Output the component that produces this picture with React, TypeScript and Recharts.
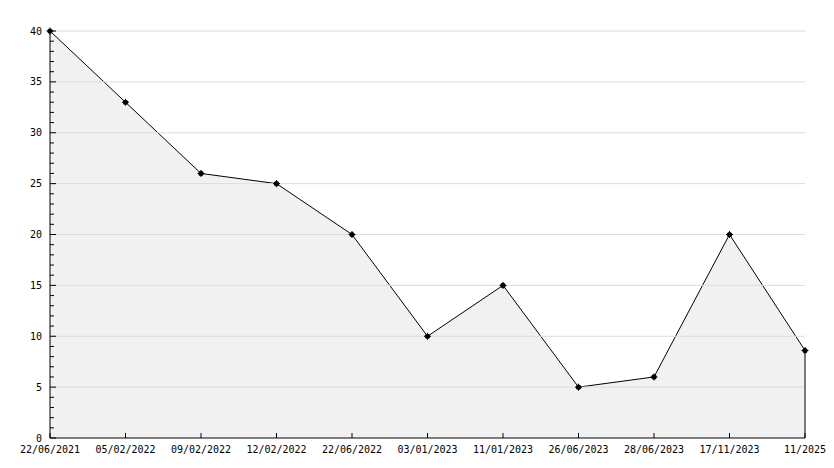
import { AreaChart, Area, XAxis, YAxis, ReferenceLine } from "recharts"

const dates = [
  "22/06/2021",
  "05/02/2022",
  "09/02/2022",
  "12/02/2022",
  "22/06/2022",
  "03/01/2023",
  "11/01/2023",
  "26/06/2023",
  "28/06/2023",
  "17/11/2023",
  "11/2025",
]
const values = [40, 33, 26, 25, 20, 10, 15, 5, 6, 20, 8.6]
const yTicks = Array.from({ length: 41 }, (_, i) => i)
const gridValues = [5, 10, 15, 20, 25, 30, 35, 40]

const data = dates.map((date, i) => ({ date, value: values[i] }))
const lastDate = dates[dates.length - 1]
const lastValue = values[values.length - 1]

const FONT = "'DejaVu Sans Mono', monospace"

function YTick(props: any) {
  const { x, y, payload } = props
  const major = payload.value % 5 === 0
  const axisX = x + 8
  return (
    <g>
      <line x1={axisX} x2={axisX + (major ? 6 : 4)} y1={y} y2={y} stroke="#000" />
      {major && (
        <text x={x} y={y + 3.5} textAnchor="end" fontSize={10} fontFamily={FONT} fill="#000">
          {payload.value}
        </text>
      )}
    </g>
  )
}

function XTick(props: any) {
  const { x, y, payload } = props
  return (
    <g>
      <line x1={x} x2={x} y1={y} y2={y - 5} stroke="#000" />
      <text x={x} y={y + 15} textAnchor="middle" fontSize={10} fontFamily={FONT} fill="#000">
        {payload.value}
      </text>
    </g>
  )
}

function Marker(props: any) {
  const { cx, cy } = props
  if (cx == null || cy == null) return null
  return (
    <g>
      <circle cx={cx} cy={cy} r={2.6} fill="#000" />
      <path d={`M${cx - 3.5},${cy}H${cx + 3.5}M${cx},${cy - 3.5}V${cy + 3.5}`} stroke="#000" strokeWidth={1} />
    </g>
  )
}

export default function App() {
  return (
    <div style={{ position: "absolute", left: 0, top: 0, width: 834, height: 468, background: "#fff" }}>
      <AreaChart width={834} height={468} data={data} margin={{ top: 31, right: 29, bottom: 0, left: 0 }}>
        {gridValues.map((v) => (
          <ReferenceLine key={v} y={v} stroke="#dcdcdc" strokeWidth={1} />
        ))}
        <XAxis
          dataKey="date"
          height={30}
          interval={0}
          tickLine={false}
          tickSize={0}
          tickMargin={0}
          axisLine={{ stroke: "#000" }}
          tick={<XTick />}
        />
        <YAxis
          width={50}
          domain={[0, 40]}
          ticks={yTicks}
          interval={0}
          tickLine={false}
          tickSize={0}
          tickMargin={8}
          axisLine={{ stroke: "#000" }}
          tick={<YTick />}
        />
        <Area
          type="linear"
          dataKey="value"
          stroke="#000"
          strokeWidth={1}
          fill="#f1f1f1"
          fillOpacity={1}
          dot={<Marker />}
          activeDot={false}
          isAnimationActive={false}
        />
        <ReferenceLine
          segment={[
            { x: lastDate, y: 0 },
            { x: lastDate, y: lastValue },
          ]}
          stroke="#000"
        />
      </AreaChart>
    </div>
  )
}
